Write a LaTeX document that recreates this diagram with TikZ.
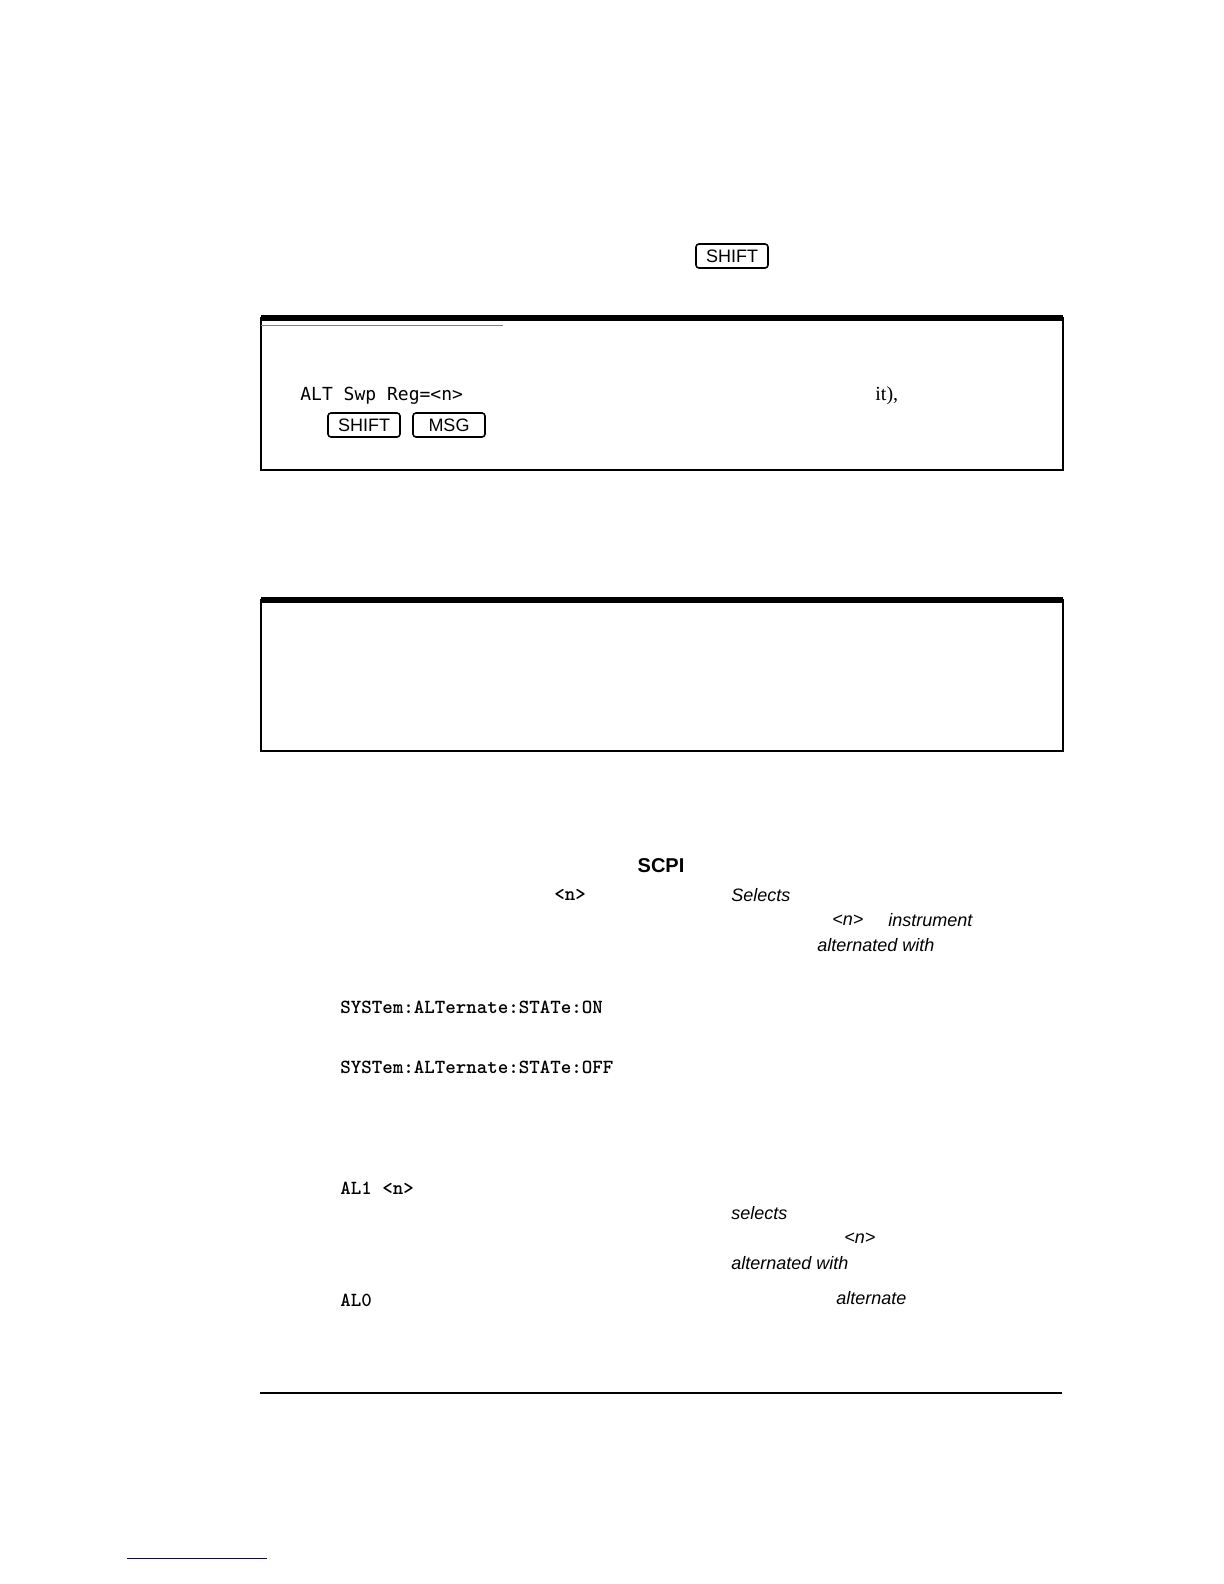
\documentclass[tikz,border=0pt]{standalone}
\usepackage{fontspec}
\setmainfont{Liberation Serif}
\newfontfamily\keyf{Liberation Sans}
\newfontfamily\lcd{DejaVu Sans Mono}
\newfontfamily\condf{Liberation Sans}
\begin{document}
\begin{tikzpicture}[x=0.5pt,y=-0.5pt,
 keybox/.style={draw,line width=0.8pt,rounded corners=1.5pt,inner sep=0.5pt,font=\keyf\small,minimum width=36pt,minimum height=12pt},
 tt/.style={font=\ttfamily\bfseries\normalsize,anchor=west,inner sep=0},
 it/.style={font=\condf\itshape\small,anchor=west,inner sep=0}]
\useasboundingbox (0,0) rectangle (1224,1584);
\node[keybox] (k0) at (732,256) {SHIFT};
\draw[line width=0.8pt] (261,318) rectangle (1063,470);
\draw[line width=3pt] (261,318) -- (1063,318);
\draw[gray,line width=0.4pt] (261,325) -- (503,325);
\node[font=\lcd\small,anchor=west,inner sep=0] (lcd) at (300,396) {ALT Swp Reg=<n>};
\node[font=\normalsize,anchor=west,inner sep=0] (itc) at (875,396) {it),};
\node[keybox] (k1) at (364,425) {SHIFT};
\node[keybox] (k2) at (449,425) {MSG};
\draw[line width=0.8pt] (261,600) rectangle (1063,751);
\draw[line width=3pt] (261,600) -- (1063,600);
\node[font=\condf\bfseries\normalsize,inner sep=0] (scpi) at (661,866) {SCPI};
\node[tt] (n1) at (554,895) {<n>};
\node[it] (s1) at (731,895) {Selects};
\node[it] (n2) at (832,920) {<n>};
\node[it] (i1) at (888,920) {instrument};
\node[it] (a1) at (817,945) {alternated with};
\node[tt] (c1) at (340,1007) {SYSTem:ALTernate:STATe:ON};
\node[tt] (c2) at (340,1067) {SYSTem:ALTernate:STATe:OFF};
\node[tt] (c3) at (340,1188) {AL1 <n>};
\node[it] (s2) at (731,1213) {selects};
\node[it] (n3) at (844,1238) {<n>};
\node[it] (a2) at (731,1263) {alternated with};
\node[tt] (c4) at (340,1300) {AL0};
\node[it] (a3) at (836,1298) {alternate};
\draw[line width=0.8pt] (260,1393) -- (1062,1393);
\draw[blue!60!black,line width=0.4pt] (127,1558) -- (267,1558);
\end{tikzpicture}
\end{document}
